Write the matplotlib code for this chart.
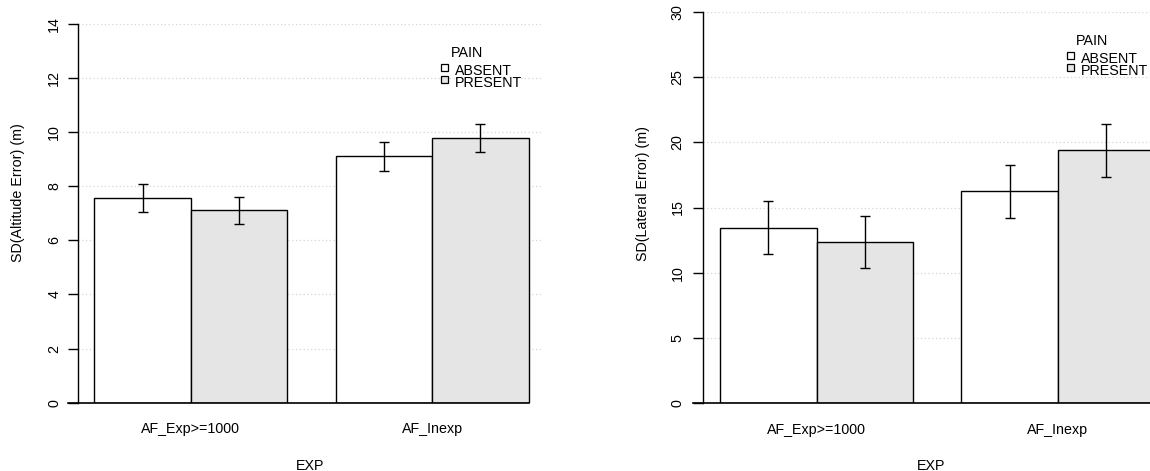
import matplotlib
matplotlib.use('Agg')
import matplotlib.pyplot as plt
from matplotlib.patches import Rectangle
import numpy as np

plt.rcParams['font.family'] = ['Liberation Sans', 'DejaVu Sans']

# ---------------- data ----------------
exp_groups = ['AF_Exp>=1000', 'AF_Inexp']
pain_levels = ['ABSENT', 'PRESENT']
legend_title = 'PAIN'
x_title = 'EXP'

alt_absent = [7.56, 9.11]
alt_present = [7.11, 9.80]
alt_absent_err = [0.52, 0.53]
alt_present_err = [0.51, 0.52]
alt_yticks = [0, 2, 4, 6, 8, 10, 12, 14]
alt_ylabel = 'SD(Altitude Error) (m)'

lat_absent = [13.45, 16.24]
lat_present = [12.36, 19.39]
lat_absent_err = [2.03, 2.02]
lat_present_err = [2.02, 2.03]
lat_yticks = [0, 5, 10, 15, 20, 25, 30]
lat_ylabel = 'SD(Lateral Error) (m)'

# ---------------- style ----------------
W, H = 1150, 471
FS = 10.3
fill_colors = ['#ffffff', '#e5e5e5']
grid_color = '#d6d6d6'
PT = 72.0 / 100.0  # points per pixel

fig = plt.figure(figsize=(W / 100, H / 100), dpi=100)


def fx(px):
    return px / W


def fy(py):
    return 1 - py / H


def panel(axis_px, right_px, top_px, bot_px, bar0_px, unit_px, yticks,
          absent, present, absent_err, present_err, ylabel, ylab_xy,
          tick_pad, legend_xy, exp_px, grid_end):
    ax = fig.add_axes([fx(axis_px), fy(bot_px), fx(right_px - axis_px),
                       (bot_px - top_px) / H])
    ax.set_xlim((axis_px - bar0_px) / unit_px, (right_px - bar0_px) / unit_px)
    ax.set_ylim(yticks[0], yticks[-1])
    for s in ['top', 'right', 'bottom']:
        ax.spines[s].set_visible(False)
    ax.spines['left'].set_linewidth(1.0)
    ax.spines['left'].set_bounds(yticks[0], yticks[-1])
    ax.set_yticks(yticks)
    ax.set_yticklabels([str(t) for t in yticks])
    ax.tick_params(axis='y', direction='out', length=10 * PT, width=1.0,
                   labelsize=FS, labelrotation=90, pad=tick_pad)
    for lab in ax.get_yticklabels():
        lab.set_verticalalignment('center')

    # grid lines behind bars
    ax.hlines(yticks[1:], ax.get_xlim()[0], grid_end, colors=grid_color,
              linestyles=(0, (1, 2)), linewidth=0.9, zorder=0)

    n = len(exp_groups)
    lefts_abs = np.arange(n) * 2.5
    lefts_pre = lefts_abs + 1
    ax.bar(lefts_abs, absent, width=1, align='edge', color=fill_colors[0],
           edgecolor='black', linewidth=1.0, zorder=2)
    ax.bar(lefts_pre, present, width=1, align='edge', color=fill_colors[1],
           edgecolor='black', linewidth=1.0, zorder=2)
    ax.errorbar(lefts_abs + 0.5, absent, yerr=absent_err, fmt='none',
                ecolor='black', elinewidth=1.0, capsize=5 * PT, capthick=1.0,
                zorder=3)
    ax.errorbar(lefts_pre + 0.5, present, yerr=present_err, fmt='none',
                ecolor='black', elinewidth=1.0, capsize=5 * PT, capthick=1.0,
                zorder=3)
    # baseline
    ax.plot([(axis_px - 10 - bar0_px) / unit_px, lefts_pre[-1] + 1], [0, 0],
            color='black', linewidth=1.2, clip_on=False, zorder=4)

    # x tick labels
    ax.set_xticks(lefts_pre)
    ax.set_xticklabels(exp_groups)
    ax.tick_params(axis='x', length=0, labelsize=FS, pad=14)

    # x title
    fig.text(fx(exp_px), fy(465 + 5.1), x_title, fontsize=FS, ha='center',
             va='baseline')
    # y label
    fig.text(fx(ylab_xy[0]), fy(ylab_xy[1]), ylabel, fontsize=FS,
             rotation=90, ha='center', va='center')

    # legend
    lx, ly = legend_xy
    fig.text(fx(lx + 6), fy(ly + 5.1), legend_title, fontsize=FS, ha='left',
             va='baseline')
    for i, lab in enumerate(pain_levels):
        sy = ly + 16 + 12 * i
        fig.patches.append(Rectangle((fx(lx - 3.5), fy(sy + 3.5)), 7 / W,
                                     7 / H, transform=fig.transFigure,
                                     facecolor=fill_colors[i],
                                     edgecolor='black', linewidth=0.9))
        fig.text(fx(lx + 10.5), fy(sy + 2 + 5.1), lab, fontsize=FS,
                 ha='left', va='baseline')
    return ax


panel(77.5, 560, 24, 402.7, 94.3, 96.5, alt_yticks,
      alt_absent, alt_present, alt_absent_err, alt_present_err,
      alt_ylabel, (18, 193), 4.5, (444.5, 51.7), 310.5, 4.65)

panel(703.3, 1190, 11.7, 403.3, 720, 96.5, lat_yticks,
      lat_absent, lat_present, lat_absent_err, lat_present_err,
      lat_ylabel, (642.5, 193.3), 6.2, (1070, 39.5), 931, 4.8)

fig.savefig('out.png', dpi=100)
